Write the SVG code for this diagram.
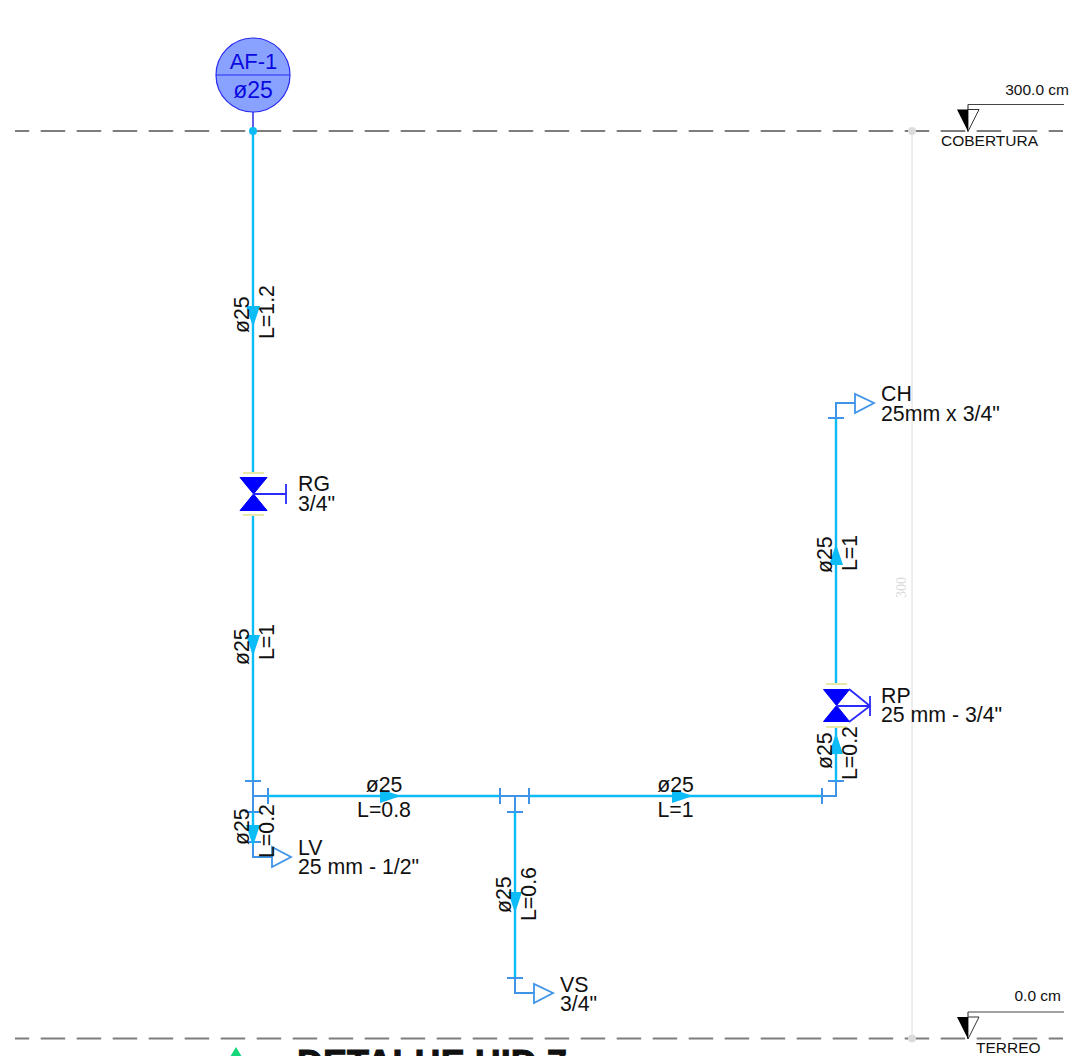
<svg xmlns="http://www.w3.org/2000/svg" width="1083" height="1056" viewBox="0 0 1083 1056">
<style>
text{font-family:"Liberation Sans",Arial,sans-serif;fill:#111}
.lb{font-size:21.300px}
.lv{font-size:15.500px}
.lvl{stroke:#7d7d7d;stroke-width:1.800;stroke-dasharray:24.5 11.5;stroke-dashoffset:10.3;fill:none}
.p{stroke:#0cbcf6;stroke-width:2.400;fill:none}
.t{stroke:#3f94e8;stroke-width:2;fill:none}
.out{stroke:#3f94e8;stroke-width:1.800;fill:#fff}
.a{fill:#0cbcf6}
.v{fill:#0000ff;stroke:#0000ff;stroke-width:1}
.h{stroke:#2a2aff;stroke-width:1.800;fill:none}
.y{stroke:#e8e8a8;stroke-width:2}
</style>
<defs>
<path id="arr" class="a" d="M0 11L-7 -10H7Z"/>
<g id="lvlmark">
<path d="M0 -27V0M0 -27H96" stroke="#444" stroke-width="1.200" fill="none"/>
<path d="M0 0L11 -22H0Z" fill="#fff" stroke="#333" stroke-width="1"/>
<path d="M0 0L-11 -22H0Z" fill="#000"/>
</g>
</defs>
<g id="levels">
<path class="lvl" d="M15 131H1063"/>
<path class="lvl" d="M15 1038.5H1063"/>
<path d="M912 131V1038.500" stroke="#dcdcdc" stroke-width="1"/>
<circle cx="912" cy="131" r="4" fill="#dcdcdc"/>
<circle cx="912" cy="1038.500" r="4" fill="#dcdcdc"/>
<text transform="translate(906 598) rotate(-90)" style="font-family:'Liberation Serif',serif;font-size:14px;fill:#dadada">300</text>
<use href="#lvlmark" x="968" y="131.500"/>
<use href="#lvlmark" x="968" y="1039"/>
<text class="lv" x="1069" y="95" text-anchor="end">300.0 cm</text>
<text class="lv" x="941" y="146">COBERTURA</text>
<text class="lv" x="1061" y="1001" text-anchor="end">0.0 cm</text>
<text class="lv" x="976" y="1053">TERREO</text>
</g>
<g id="connectors">
<path class="p" d="M253 131V472M253 516V781"/>
<path class="t" d="M253 781V857H272M245 781H261M245 812H261M245 842H261M253 796H268M268 788V804"/>
<path class="p" d="M268 796H500M529 796H822"/>
<path class="t" d="M500 788V804M529 788V804M500 796H529M515 796V812M507 812H523M822 788V804M822 796H836V781M828 781H844"/>
<path class="p" d="M836 781V728M836 684V418"/>
<path class="t" d="M828 418H844M836 418V403H855"/>
<path class="p" d="M515 812V978"/>
<path class="t" d="M507 978H523M515 978V993H534"/>
<path class="p" d="M253 812V842"/>
<use href="#arr" x="253" y="316"/>
<use href="#arr" x="253" y="645"/>
<use href="#arr" x="253" y="835"/>
<use href="#arr" x="515" y="902"/>
<use href="#arr" transform="translate(836 744) rotate(180)"/>
<use href="#arr" transform="translate(836 555) rotate(180)"/>
<use href="#arr" transform="translate(390 796) rotate(-90)"/>
<use href="#arr" transform="translate(682 796) rotate(-90)"/>
</g>
<g id="AF-1">
<path d="M253 112V128" stroke="#1a1ae0" stroke-width="1.400"/>
<circle cx="253" cy="75" r="37" fill="#8aa2ff" stroke="#2a2af0" stroke-width="1.200"/>
<path d="M216 75H290" stroke="#2a2af0" stroke-width="1.200"/>
<text x="253.500" y="69" text-anchor="middle" style="font-size:22px;fill:#0a0ae0">AF-1</text>
<text x="253" y="98" text-anchor="middle" style="font-size:23px;fill:#0a0ae0">ø25</text>
<circle cx="253" cy="131" r="4" fill="#0cbcf6"/>
</g>
<g id="RG">
<path class="y" d="M243 473H264M243 515H264"/>
<path class="v" d="M240 477.500H267L240 510.500H267Z"/>
<path class="h" d="M253 494H286M286 484V504"/>
<text class="lb" x="298" y="491">RG</text>
<text class="lb" x="298" y="511">3/4"</text>
</g>
<g id="RP">
<path class="y" d="M826 684H847M826 727H847"/>
<path class="v" d="M823.500 689.500H849.500L823.500 721.500H849.500Z"/>
<path class="h" d="M849 689L870 706L849 722M836 706H870M870 696V716"/>
<text class="lb" x="881" y="703">RP</text>
<text class="lb" x="881" y="722">25 mm - 3/4"</text>
</g>
<g id="LV">
<path class="out" d="M272 847V867L291 857Z"/>
<text class="lb" x="298" y="855">LV</text>
<text class="lb" x="298" y="874">25 mm - 1/2"</text>
</g>
<g id="VS">
<path class="out" d="M534 984V1003L553 993Z"/>
<text class="lb" x="560" y="992">VS</text>
<text class="lb" x="560" y="1011">3/4"</text>
</g>
<g id="CH">
<path class="out" d="M855 394V413L874 403Z"/>
<text class="lb" x="881" y="401">CH</text>
<text class="lb" x="881" y="421">25mm x 3/4"</text>
</g>
<g id="labels">
<text class="lb" transform="translate(249 333) rotate(-90)">ø25</text>
<text class="lb" transform="translate(274 339) rotate(-90)">L=1.2</text>
<text class="lb" transform="translate(249 665) rotate(-90)">ø25</text>
<text class="lb" transform="translate(274 660) rotate(-90)">L=1</text>
<text class="lb" transform="translate(249 845) rotate(-90)">ø25</text>
<text class="lb" transform="translate(274 858) rotate(-90)">L=0.2</text>
<text class="lb" x="384" y="792" text-anchor="middle">ø25</text>
<text class="lb" x="384" y="817" text-anchor="middle">L=0.8</text>
<text class="lb" x="675.500" y="792" text-anchor="middle">ø25</text>
<text class="lb" x="675.500" y="817" text-anchor="middle">L=1</text>
<text class="lb" transform="translate(511 913) rotate(-90)">ø25</text>
<text class="lb" transform="translate(536 921) rotate(-90)">L=0.6</text>
<text class="lb" transform="translate(832 769) rotate(-90)">ø25</text>
<text class="lb" transform="translate(857 780) rotate(-90)">L=0.2</text>
<text class="lb" transform="translate(832 573) rotate(-90)">ø25</text>
<text class="lb" transform="translate(857 571) rotate(-90)">L=1</text>
</g>
<g id="title">
<path d="M236 1047L227 1062H245Z" fill="#14d87a"/>
<text x="297" y="1076" style="font-size:36px;font-weight:bold;fill:#111;stroke:#111;stroke-width:1" textLength="270">DETALHE HID 7</text>
</g>
</svg>
